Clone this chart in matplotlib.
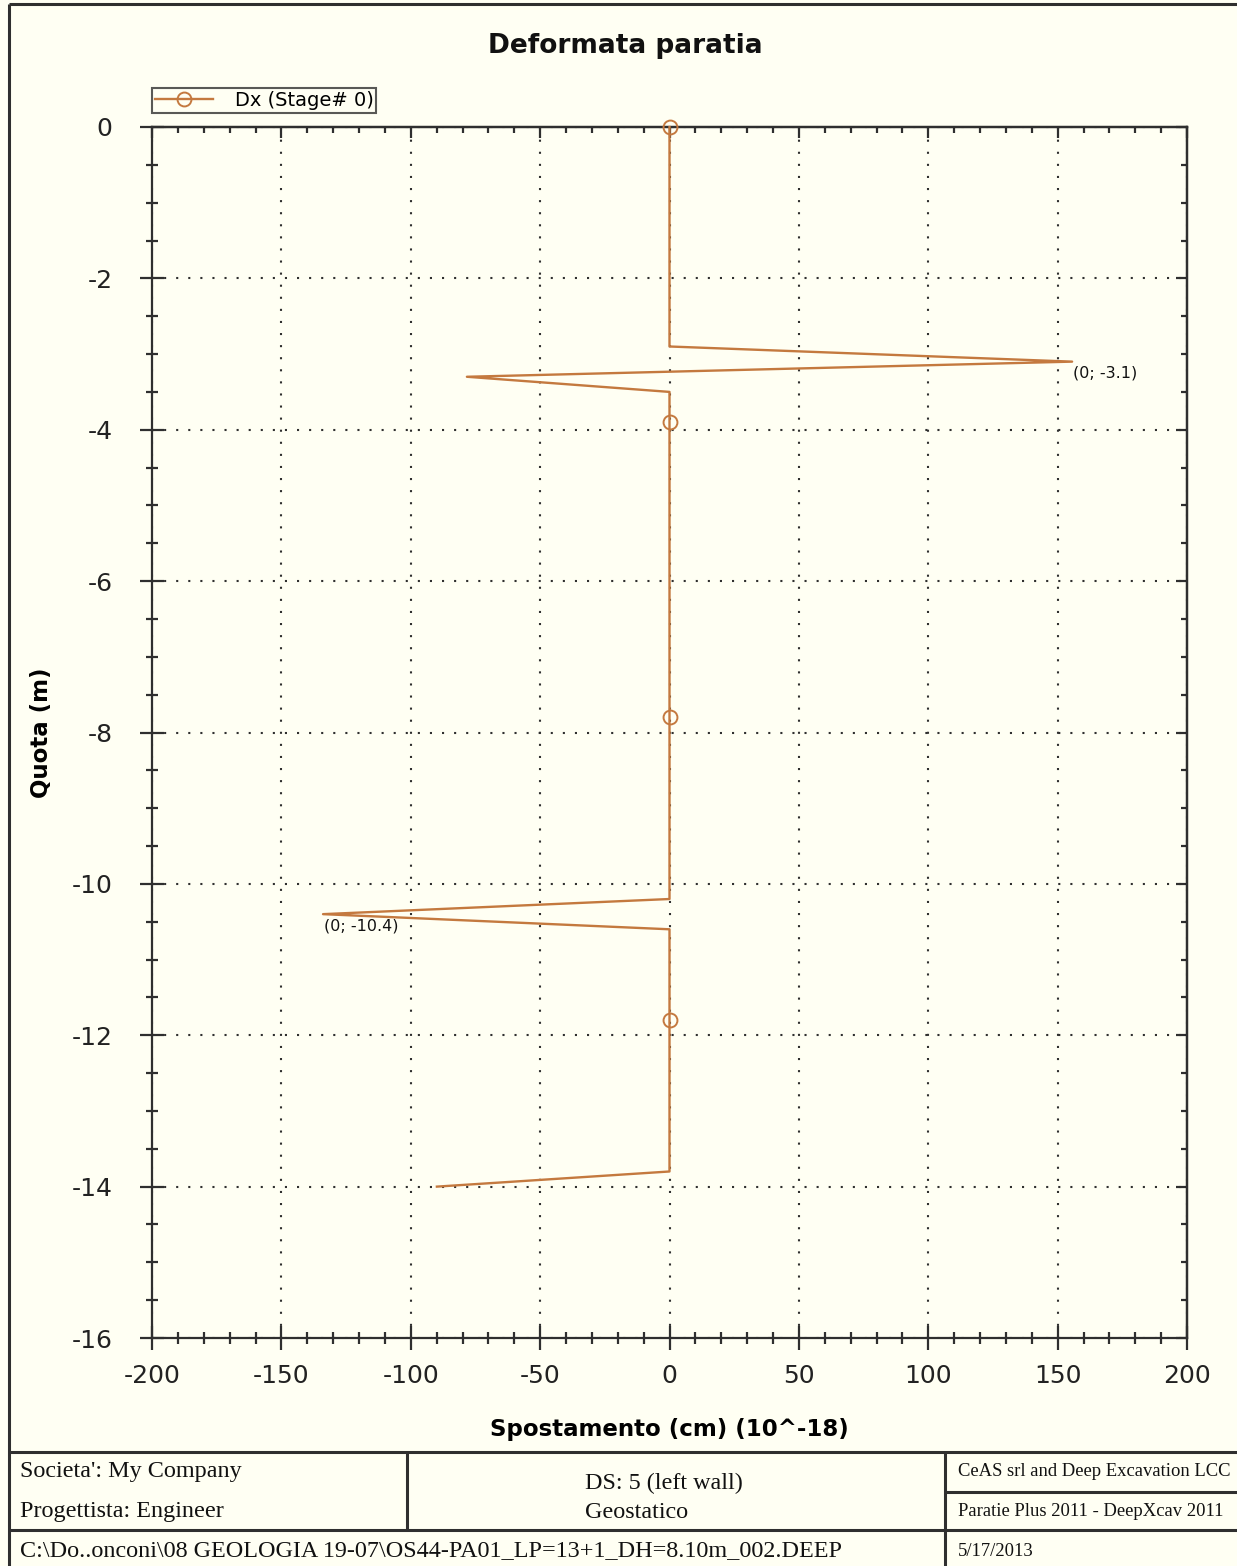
import matplotlib
matplotlib.use('Agg')
import matplotlib.pyplot as plt
from matplotlib.ticker import MultipleLocator
from matplotlib.lines import Line2D

plt.rcParams['axes.unicode_minus'] = False

# deformed wall profile (Stage 0)
quota = [0, -2.9, -3.1, -3.3, -3.5, -3.9, -7.8, -10.2, -10.4, -10.6, -11.8, -13.8, -14.0]
dx = [0, 0, 155.6, -78.3, 0, 0, 0, 0, -133.9, 0, 0, 0, -89.9]
marker_idx = [0, 5, 6, 10]
series_label = 'Dx (Stage# 0)'

# labelled extremes
ann_x = [155.6, -133.9]
ann_y = [-3.1, -10.4]
ann_text = ['(0; -3.1)', '(0; -10.4)']

footer_left = ["Societa': My Company", 'Progettista: Engineer']
footer_mid = ['DS: 5 (left wall)', 'Geostatico']
footer_right = ['CeAS srl and Deep Excavation LCC', 'Paratie Plus 2011 - DeepXcav 2011']
footer_path = 'C:\\Do..onconi\\08 GEOLOGIA 19-07\\OS44-PA01_LP=13+1_DH=8.10m_002.DEEP'
footer_date = '5/17/2013'

BG = '#FFFFF3'
LINE = '#C4793F'
DARK = '#2f2f2f'
W, H = 1237, 1566

fig = plt.figure(figsize=(W / 100, H / 100), dpi=100, facecolor=BG)

# frame + footer table, drawn in pixel coords
frame = fig.add_axes([0, 0, 1, 1])
frame.set_xlim(0, W)
frame.set_ylim(H, 0)
frame.axis('off')
frame.patch.set_alpha(0)
lw_frame = 2.2
for xs, ys in [((9, W + 5), (4, 4)), ((9, 9), (4, H + 5)),
               ((9, W + 5), (1452, 1452)), ((9, W + 5), (1530, 1530)),
               ((407, 407), (1452, 1530)), ((945, 945), (1452, H + 5)),
               ((945, W + 5), (1492, 1492))]:
    frame.add_line(Line2D(xs, ys, color=DARK, lw=lw_frame, solid_capstyle='butt'))

serif = 'Liberation Serif'
big, small = 17.4, 13.4
frame.text(20, 1472, footer_left[0], family=serif, fontsize=big, va='center', ha='left', color='#111')
frame.text(20, 1512, footer_left[1], family=serif, fontsize=big, va='center', ha='left', color='#111')
frame.text(585, 1483, footer_mid[0], family=serif, fontsize=big, va='center', ha='left', color='#111')
frame.text(585, 1513, footer_mid[1], family=serif, fontsize=big, va='center', ha='left', color='#111')
frame.text(958, 1472, footer_right[0], family=serif, fontsize=small, va='center', ha='left', color='#111')
frame.text(958, 1511, footer_right[1], family=serif, fontsize=small, va='center', ha='left', color='#111')
frame.text(20, 1551, footer_path, family=serif, fontsize=big, va='center', ha='left', color='#111')
frame.text(958, 1551, footer_date, family=serif, fontsize=small, va='center', ha='left', color='#111')

# main chart
ax = fig.add_axes([152 / W, 1 - 1338 / H, (1187 - 152) / W, (1338 - 127) / H])
ax.set_facecolor(BG)
ax.plot(dx, quota, color=LINE, lw=1.7, marker='o', markevery=marker_idx,
        markersize=10, mfc='none', mec=LINE, mew=1.4, label=series_label, clip_on=False, zorder=3)

for x, y, t in zip(ann_x, ann_y, ann_text):
    ax.annotate(t, (x, y), xytext=(1, -4), textcoords='offset pixels',
                ha='left', va='top', fontsize=11.5, color='#111')

ax.set_xlim(-200, 200)
ax.set_ylim(-16, 0)
ax.xaxis.set_major_locator(MultipleLocator(50))
ax.xaxis.set_minor_locator(MultipleLocator(10))
ax.yaxis.set_major_locator(MultipleLocator(2))
ax.yaxis.set_minor_locator(MultipleLocator(0.5))
ax.grid(True, which='major', color=DARK, lw=1.5, linestyle=(0, (1, 4.8)))

for s in ax.spines.values():
    s.set_linewidth(1.6)
    s.set_color(DARK)

ax.tick_params(which='major', direction='inout', length=17, width=1.6, color=DARK,
               labelsize=18, labelcolor='#222')
ax.tick_params(which='minor', direction='inout', length=8, width=1.6, color=DARK)
ax.tick_params(axis='x', which='major', pad=10)
ax.tick_params(axis='y', which='major', pad=20)

top = ax.secondary_xaxis('top')
top.xaxis.set_major_locator(MultipleLocator(50))
top.xaxis.set_minor_locator(MultipleLocator(10))
top.tick_params(which='major', direction='in', length=8, width=1.6, color=DARK, labeltop=False)
top.tick_params(which='minor', direction='in', length=4, width=1.6, color=DARK)
top.spines['top'].set_linewidth(1.6)

right = ax.secondary_yaxis('right')
right.yaxis.set_major_locator(MultipleLocator(2))
right.yaxis.set_minor_locator(MultipleLocator(0.5))
right.tick_params(which='major', direction='in', length=8, width=1.6, color=DARK, labelright=False)
right.tick_params(which='minor', direction='in', length=4, width=1.6, color=DARK)
right.spines['right'].set_linewidth(1.6)

ax.set_xlabel('Spostamento (cm) (10^-18)', fontsize=16.5, fontweight='bold', labelpad=22)
ax.set_ylabel('Quota (m)', fontsize=16.5, fontweight='bold')
ax.yaxis.set_label_coords((53 - 152) / (1187 - 152), 0.5)
fig.text(625 / W, 1 - 46 / H, 'Deformata paratia', fontsize=19, fontweight='bold',
         ha='center', va='center', color='#111')

leg = ax.legend(loc='lower left', bbox_to_anchor=(152 / W, 1 - 113 / H),
                bbox_transform=fig.transFigure, fontsize=14, frameon=True, fancybox=False,
                borderpad=0.15, handlelength=3.0, handletextpad=1.1, borderaxespad=0)
leg.get_frame().set_edgecolor(DARK)
leg.get_frame().set_linewidth(1.5)
leg.get_frame().set_facecolor(BG)

fig.savefig('out.png', dpi=100, facecolor=BG)
